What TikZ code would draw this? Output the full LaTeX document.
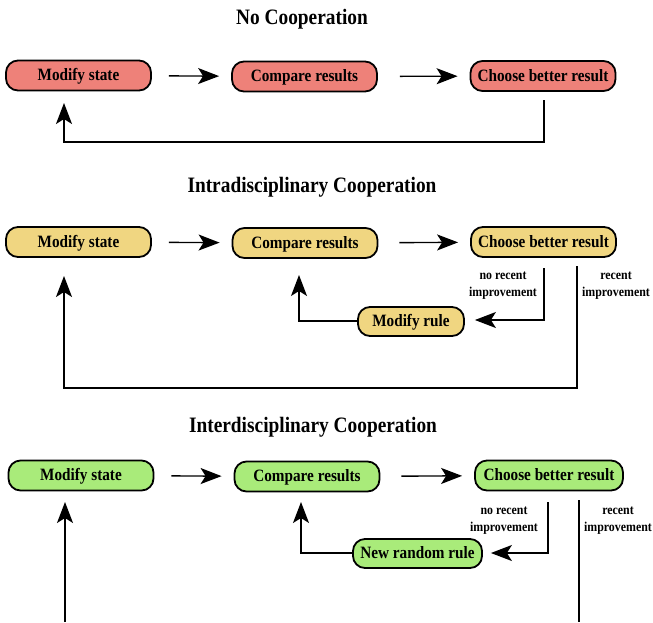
\documentclass[tikz,border=0pt]{standalone}
\usepackage{fontspec}
\setmainfont[FakeStretch=0.88]{Liberation Serif}
\usetikzlibrary{arrows.meta}
\definecolor{redfill}{RGB}{238,129,121}
\definecolor{yelfill}{RGB}{240,214,129}
\definecolor{grnfill}{RGB}{169,235,122}
\tikzset{
  box/.style={draw=black, line width=1.8pt, rounded corners=12pt, minimum height=30pt, minimum width=145pt, inner sep=0pt, text depth=2pt, font=\fontsize{17.3}{19}\selectfont\bfseries},
  ttl/.style={font=\fontsize{22}{24}\selectfont\bfseries},
  lbl/.style={font=\fontsize{13.5}{17}\selectfont\bfseries, align=center},
  arr/.style={line width=1.4pt, -{Stealth[length=21pt,width=16pt,inset=5pt]}},
  ln/.style={line width=1.4pt},
}
\begin{document}
\begin{tikzpicture}[x=1pt,y=-1pt]
\useasboundingbox (0,0) rectangle (653,622);
% ---- No cooperation
\node[ttl] (t1) at (302,19) {No Cooperation};
\node[box, fill=redfill] (m1) at (78.5,75.5) {Modify state};
\node[box, fill=redfill] (c1) at (304.5,76.5) {Compare results};
\node[box, fill=redfill] (b1) at (543,76) {Choose better result};
\draw[arr, shorten <=17pt, shorten >=12pt] (m1) -- (c1);
\draw[arr, shorten <=22pt, shorten >=12pt] (c1) -- (b1);
\coordinate (f1) at (544,100);
\coordinate (e1) at (64,103);
\draw[arr] (f1) -- (544,142) -- (64,142) -- (e1);
% ---- Intradisciplinary
\node[ttl] (t2) at (312,187) {Intradisciplinary Cooperation};
\node[box, fill=yelfill] (m2) at (78.5,242) {Modify state};
\node[box, fill=yelfill] (c2) at (305,243) {Compare results};
\node[box, fill=yelfill] (b2) at (543.5,242) {Choose better result};
\node[box, fill=yelfill, minimum width=106pt, minimum height=29pt] (r2) at (411,321.5) {Modify rule};
\draw[arr, shorten <=17pt, shorten >=12pt] (m2) -- (c2);
\draw[arr, shorten <=21pt, shorten >=12pt] (c2) -- (b2);
\coordinate (f2) at (544,268);
\draw[arr, shorten >=10pt] (f2) -- (544,320) -- (r2.east |- 0,320);
\coordinate (e2) at (299,275);
\draw[arr] (r2.west |- 0,321) -- (299,321) -- (e2);
\coordinate (g2) at (577,266);
\coordinate (h2) at (64,276);
\draw[arr] (g2) -- (577,388) -- (64,388) -- (h2);
\node[lbl] (n2) at (503,286) {no recent\\improvement};
\node[lbl] (p2) at (616,286) {recent\\improvement};
% ---- Interdisciplinary
\node[ttl] (t3) at (313,427) {Interdisciplinary Cooperation};
\node[box, fill=grnfill] (m3) at (81,475.5) {Modify state};
\node[box, fill=grnfill] (c3) at (307,476.5) {Compare results};
\node[box, fill=grnfill, minimum width=148pt] (b3) at (549,475.5) {Choose better result};
\node[box, fill=grnfill, minimum width=129pt, minimum height=29pt] (r3) at (417.5,553.5) {New random rule};
\draw[arr, shorten <=17pt, shorten >=12pt] (m3) -- (c3);
\draw[arr, shorten <=21pt, shorten >=12pt] (c3) -- (b3);
\coordinate (f3) at (548,502);
\draw[arr, shorten >=8pt] (f3) -- (548,553) -- (r3.east |- 0,553);
\coordinate (e3) at (301,502);
\draw[arr] (r3.west |- 0,553) -- (301,553) -- (e3);
\coordinate (g3) at (579,500);
\coordinate (k3) at (579,622);
\draw[ln] (g3) -- (k3);
\coordinate (s3) at (65,622);
\coordinate (h3) at (65,502);
\draw[arr] (s3) -- (h3);
\node[lbl] (n3) at (504,520.5) {no recent\\improvement};
\node[lbl] (p3) at (618,520.5) {recent\\improvement};
\end{tikzpicture}
\end{document}
